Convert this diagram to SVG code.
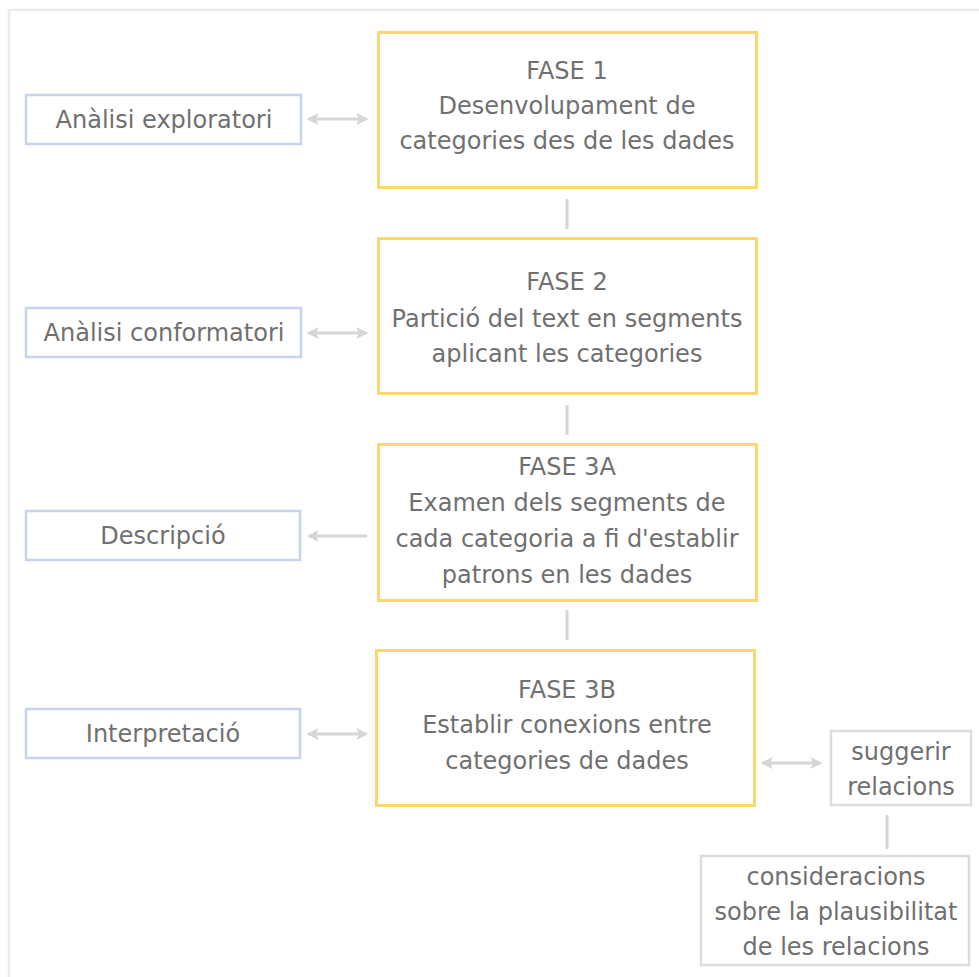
<svg xmlns="http://www.w3.org/2000/svg" width="979" height="977" viewBox="0 0 979 977">
<defs>
<style>
text{font-family:"DejaVu Sans",Verdana,sans-serif;font-size:24px;fill:#707070;text-anchor:middle}
.phase{fill:#fff;stroke:#ffd56e;stroke-width:3}
.side{fill:#fff;stroke:#c9d2ee;stroke-width:2.5}
.grey{fill:#fff;stroke:#dcdcdc;stroke-width:2.5}
.con{stroke:#d6d6d6;stroke-width:3;fill:none}
</style>
<marker id="ah" viewBox="0 0 10 10" refX="8" refY="5" markerWidth="12" markerHeight="12" orient="auto-start-reverse" markerUnits="userSpaceOnUse">
<path d="M0,0 L10,5 L0,10 L2,5 z" fill="#d6d6d6"/>
</marker>
</defs>
<rect x="0" y="0" width="979" height="977" fill="#fff"/>
<path d="M9,977 V10 H979" fill="none" stroke="#ebebeb" stroke-width="2.5"/>
<g id="connectors">
<line class="con" x1="309" y1="119" x2="366" y2="119" marker-start="url(#ah)" marker-end="url(#ah)"/>
<line class="con" x1="309" y1="333" x2="366" y2="333" marker-start="url(#ah)" marker-end="url(#ah)"/>
<line class="con" x1="309" y1="536" x2="367" y2="536" marker-start="url(#ah)"/>
<line class="con" x1="309" y1="734" x2="366" y2="734" marker-start="url(#ah)" marker-end="url(#ah)"/>
<line class="con" x1="763" y1="763" x2="820" y2="763" marker-start="url(#ah)" marker-end="url(#ah)"/>
<line class="con" x1="567" y1="199" x2="567" y2="229"/>
<line class="con" x1="567" y1="405" x2="567" y2="435"/>
<line class="con" x1="567" y1="610" x2="567" y2="640"/>
<line class="con" x1="887" y1="815" x2="887" y2="849"/>
</g>
<g id="fase1">
<rect class="phase" x="378.5" y="32.5" width="378" height="155"/>
<text x="567" y="79">FASE 1</text>
<text x="567" y="114">Desenvolupament de</text>
<text x="567" y="149">categories des de les dades</text>
</g>
<g id="fase2">
<rect class="phase" x="378.5" y="238.5" width="378" height="155"/>
<text x="567" y="290">FASE 2</text>
<text x="567" y="327">Partició del text en segments</text>
<text x="567" y="362">aplicant les categories</text>
</g>
<g id="fase3a">
<rect class="phase" x="378.5" y="444.5" width="378" height="156"/>
<text x="567" y="475">FASE 3A</text>
<text x="567" y="511">Examen dels segments de</text>
<text x="567" y="547">cada categoria a fi d'establir</text>
<text x="567" y="583">patrons en les dades</text>
</g>
<g id="fase3b">
<rect class="phase" x="376.5" y="650.5" width="378" height="155"/>
<text x="567" y="698">FASE 3B</text>
<text x="567" y="733">Establir conexions entre</text>
<text x="567" y="769">categories de dades</text>
</g>
<g id="exploratori">
<rect class="side" x="26" y="95" width="275" height="49"/>
<text x="164" y="128">Anàlisi exploratori</text>
</g>
<g id="conformatori">
<rect class="side" x="26" y="308" width="275" height="49"/>
<text x="164" y="341">Anàlisi conformatori</text>
</g>
<g id="descripcio">
<rect class="side" x="26" y="511" width="274" height="49"/>
<text x="163" y="544">Descripció</text>
</g>
<g id="interpretacio">
<rect class="side" x="26" y="709" width="274" height="49"/>
<text x="163" y="742">Interpretació</text>
</g>
<g id="suggerir">
<rect class="grey" x="831" y="731" width="140" height="74"/>
<text x="901" y="760">suggerir</text>
<text x="901" y="795">relacions</text>
</g>
<g id="consideracions">
<rect class="grey" x="701" y="856" width="268" height="109"/>
<text x="836" y="885">consideracions</text>
<text x="836" y="920">sobre la plausibilitat</text>
<text x="836" y="955">de les relacions</text>
</g>
</svg>
